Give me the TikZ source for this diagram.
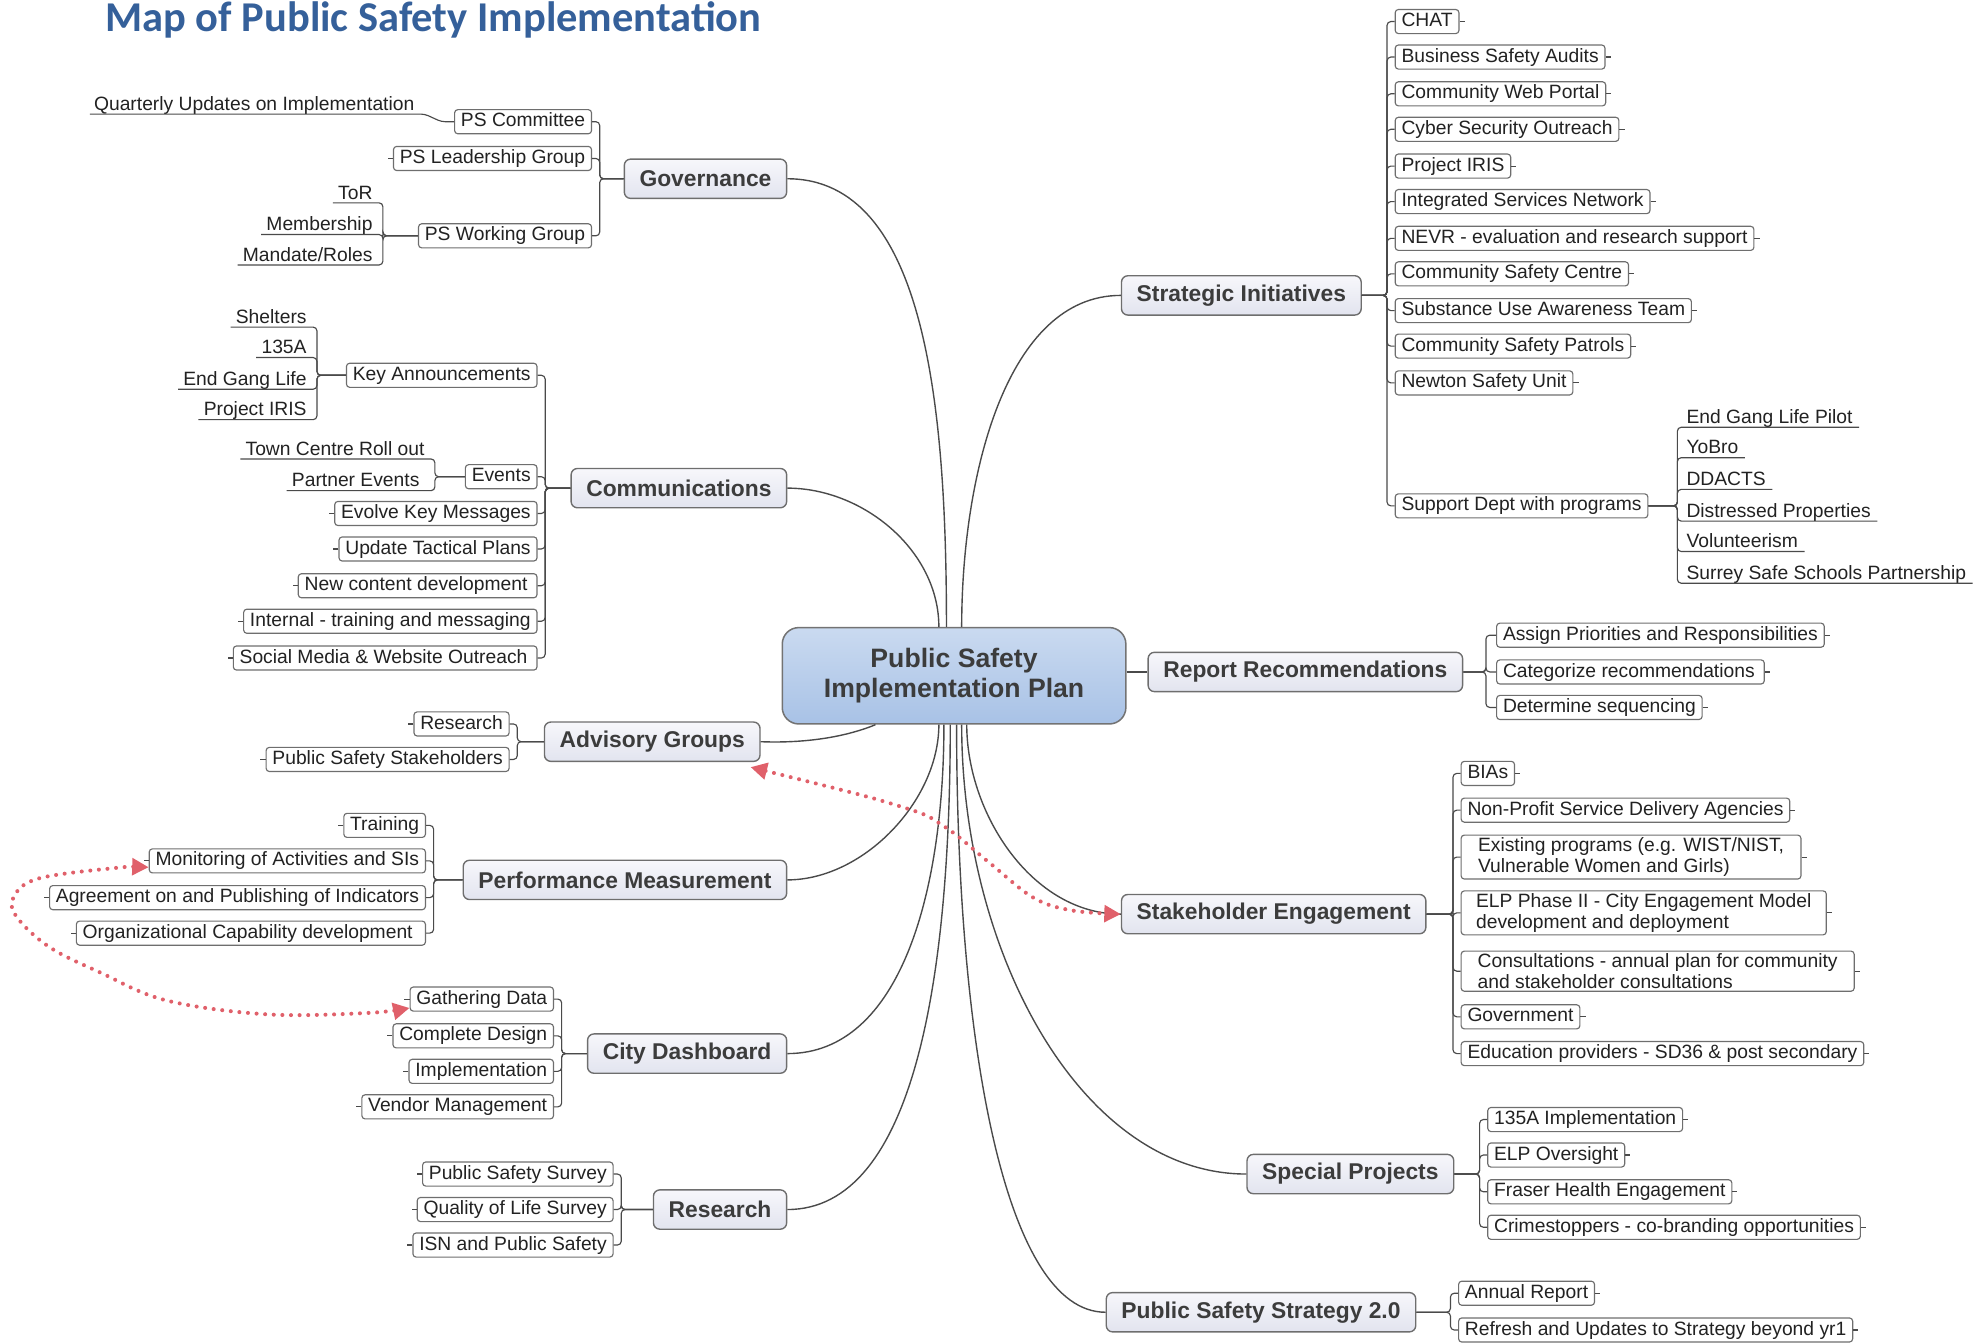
\documentclass[tikz,border=0pt]{standalone}
\usepackage{fontspec}
\setmainfont{Liberation Sans}
\newfontfamily\titlefont{Carlito}
\usetikzlibrary{arrows.meta,calc}
\definecolor{ln}{HTML}{4A4A4A}
\definecolor{bd}{HTML}{6E6E6E}
\definecolor{txt}{HTML}{222222}
\definecolor{mtxt}{HTML}{3C3C3C}
\definecolor{rd}{HTML}{E0606A}
\definecolor{ttl}{HTML}{35609A}
\definecolor{ctop}{HTML}{CADAF0}
\definecolor{cbot}{HTML}{A8C2E6}
\definecolor{mtop}{HTML}{F7F7FB}
\definecolor{mbot}{HTML}{E2E4EF}
\newcommand\cconn[4]{\draw[br] (#1) .. controls ($(#1)+(0,#3)$) and ($(#2)+(#4,0)$) .. (#2);}
\newcommand\busW[3]{\draw[conn,rounded corners=3pt] (#1.west) -- (#2|-#1.west) -- (#2|-#3.east) -- (#3.east);}
\newcommand\busE[3]{\draw[conn,rounded corners=3pt] (#1.east) -- (#2|-#1.east) -- (#2|-#3.west) -- (#3.west);}
\newcommand\ulW[3]{\draw[conn,rounded corners=3pt] (#1.west) -- (#2|-#1.west) -- ($(#2|-#3.base)+(0,3)$) -- ($(#3.base west)+(-4,3)$);}
\newcommand\ulE[3]{\draw[conn,rounded corners=3pt] (#1.east) -- (#2|-#1.east) -- ($(#2|-#3.base)+(0,3)$) -- ($(#3.base east)+(5,3)$);}
\begin{document}
\begin{tikzpicture}[x=1pt,y=-1pt,
 leafbase/.style={draw=bd, line width=0.9pt, fill=white, rounded corners=2.5pt, inner xsep=5pt, inner ysep=2.5pt, font=\fontsize{15.2}{16.5}\selectfont, text=txt},
 leaf/.style={leafbase, text height=11pt, text depth=3pt},
 leafM/.style={leafbase, align=left, inner ysep=2pt},
 main/.style={draw=bd, line width=1.1pt, rounded corners=5pt, top color=mtop, bottom color=mbot, minimum height=31pt, inner xsep=12pt, inner ysep=0pt, font=\fontsize{18}{20}\selectfont\bfseries, text=mtxt},
 ctrs/.style={draw=black!55, line width=1.2pt, rounded corners=13pt, top color=ctop, bottom color=cbot, minimum width=271pt, minimum height=76pt, align=center, font=\fontsize{21}{24}\selectfont\bfseries, text=mtxt},
 ul/.style={inner sep=0pt, font=\fontsize{15.2}{16.5}\selectfont, text=txt},
 conn/.style={draw=ln, line width=0.9pt},
 br/.style={draw=ln, line width=1.1pt},
 reddot/.style={draw=rd, line width=3.2pt, dash pattern=on 0pt off 6.8pt, line cap=round},
 rtip/.style={{Triangle[length=13pt,width=13pt,fill=rd,color=rd,line cap=butt]}-{Triangle[length=13pt,width=13pt,fill=rd,color=rd,line cap=butt]}}
]
\useasboundingbox (0,0) rectangle (1568,1059);
\node[anchor=base west, inner sep=0pt, font=\titlefont\bfseries\fontsize{33.5}{36}\selectfont, text=ttl] (title) at (83,25) {Map of Public Safety Implementation};

% center
\node[ctrs] (ctr) at (752.5,533) {Public Safety\\Implementation Plan};

% main branches
\node[main,anchor=east] (gov) at (621,141) {Governance};
\node[main,anchor=east] (comm) at (621,385) {Communications};
\node[main,anchor=east] (adv) at (600,585) {Advisory Groups};
\node[main,anchor=east] (pm) at (621,694) {Performance Measurement};
\node[main,anchor=east] (cd) at (621,831) {City Dashboard};
\node[main,anchor=east] (res) at (621,954) {Research};
\node[main,anchor=west] (si) at (884,233) {Strategic Initiatives};
\node[main,anchor=west] (rr) at (905,530) {Report Recommendations};
\node[main,anchor=west] (se) at (884,721) {Stakeholder Engagement};
\node[main,anchor=west] (sp) at (983,926) {Special Projects};
\node[main,anchor=west] (pss) at (872,1035) {Public Safety Strategy 2.0};

% center connectors
\cconn{[xshift=-6pt]ctr.north}{gov.east}{-170}{110}
\cconn{[xshift=6pt]ctr.north}{si.west}{-120}{-90}
\cconn{[xshift=-12pt]ctr.north}{comm.east}{-60}{60}
\draw[br] (ctr.east|-rr.west) -- (rr.west);
\draw[br] ([xshift=-62pt]ctr.south) .. controls (660,584) and (625,586) .. (adv.east);
\cconn{[xshift=-12pt]ctr.south}{pm.east}{60}{60}
\cconn{[xshift=-8pt]ctr.south}{cd.east}{130}{90}
\cconn{[xshift=-3pt]ctr.south}{res.east}{200}{100}
\cconn{[xshift=10pt]ctr.south}{se.west}{70}{-70}
\cconn{[xshift=6pt]ctr.south}{sp.west}{180}{-130}
\cconn{[xshift=2pt]ctr.south}{pss.west}{250}{-80}

% Governance
\coordinate (bGov) at (473,0);
\node[leaf,anchor=east] (pscomm) at (467,96) {PS Committee};
\node[leaf,anchor=east] (pslead) at (467,125) {PS Leadership Group};
\node[leaf,anchor=east] (pswork) at (467,186) {PS Working Group};
\foreach \c in {pscomm,pslead,pswork} {\busW{gov}{bGov}{\c}}
\node[ul,anchor=base east] (qu) at (327,87) {Quarterly Updates on Implementation};
\draw[conn,rounded corners=3pt] (pscomm.west) -- ++(-10,0) -- ($(qu.base east)+(8,3)$) -- ($(qu.base west)+(-3,3)$);
\coordinate (bPSW) at (302,0);
\node[ul,anchor=base east] (tor) at (294,157) {ToR};
\node[ul,anchor=base east] (memb) at (294,182) {Membership};
\node[ul,anchor=base east] (mand) at (294,206) {Mandate/Roles};
\foreach \c in {tor,memb,mand} {\ulW{pswork}{bPSW}{\c}}

% Communications
\coordinate (bComm) at (430,0);
\node[leaf,anchor=east] (keyann) at (424,296) {Key Announcements};
\node[leaf,anchor=east] (events) at (424,376) {Events};
\node[leaf,anchor=east] (evolve) at (424,405) {Evolve Key Messages};
\node[leaf,anchor=east] (update) at (424,433) {Update Tactical Plans};
\node[leaf,anchor=east] (newcont) at (424,462) {New content development\,};
\node[leaf,anchor=east] (internal) at (424,490) {Internal - training and messaging};
\node[leaf,anchor=east] (social) at (424,519) {Social Media \& Website Outreach\,};
\foreach \c in {keyann,events,evolve,update,newcont,internal,social} {\busW{comm}{bComm}{\c}}
\coordinate (bKA) at (250,0);
\node[ul,anchor=base east] (shel) at (242,255) {Shelters};
\node[ul,anchor=base east] (a135) at (242,279) {135A};
\node[ul,anchor=base east] (egl) at (242,304) {End Gang Life};
\node[ul,anchor=base east] (piris) at (242,328) {Project IRIS};
\foreach \c in {shel,a135,egl,piris} {\ulW{keyann}{bKA}{\c}}
\coordinate (bEv) at (343,0);
\node[ul,anchor=base east] (tcro) at (335,359) {Town Centre Roll out};
\node[ul,anchor=base east] (pev) at (331,384) {Partner Events};
\foreach \c in {tcro,pev} {\ulW{events}{bEv}{\c}}

% Advisory Groups
\coordinate (bAdv) at (408,0);
\node[leaf,anchor=east] (advres) at (402,571) {Research};
\node[leaf,anchor=east] (advst) at (402,599) {Public Safety Stakeholders};
\foreach \c in {advres,advst} {\busW{adv}{bAdv}{\c}}

% Performance Measurement
\coordinate (bPM) at (342,0);
\node[leaf,anchor=east] (train) at (336,651) {Training};
\node[leaf,anchor=east] (monit) at (336,679) {Monitoring of Activities and SIs};
\node[leaf,anchor=east] (agree) at (336,708) {Agreement on and Publishing of Indicators};
\node[leaf,anchor=east] (orgcap) at (336,736) {Organizational Capability development\,\,};
\foreach \c in {train,monit,agree,orgcap} {\busW{pm}{bPM}{\c}}

% City Dashboard
\coordinate (bCD) at (443,0);
\node[leaf,anchor=east] (gath) at (437,788) {Gathering Data};
\node[leaf,anchor=east] (compl) at (437,817) {Complete Design};
\node[leaf,anchor=east] (implem) at (437,845) {Implementation};
\node[leaf,anchor=east] (vendor) at (437,873) {Vendor Management};
\foreach \c in {gath,compl,implem,vendor} {\busW{cd}{bCD}{\c}}

% Research
\coordinate (bRes) at (490,0);
\node[leaf,anchor=east] (survey) at (484,926) {Public Safety Survey};
\node[leaf,anchor=east] (qol) at (484,954) {Quality of Life Survey};
\node[leaf,anchor=east] (isn) at (484,982) {ISN and Public Safety};
\foreach \c in {survey,qol,isn} {\busW{res}{bRes}{\c}}

% Strategic Initiatives
\coordinate (bSI) at (1094,0);
\node[leaf,anchor=west] (s1) at (1100,17) {CHAT};
\node[leaf,anchor=west] (s2) at (1100,45) {Business Safety Audits};
\node[leaf,anchor=west] (s3) at (1100,74) {Community Web Portal};
\node[leaf,anchor=west] (s4) at (1100,102) {Cyber Security Outreach};
\node[leaf,anchor=west] (s5) at (1100,131) {Project IRIS};
\node[leaf,anchor=west] (s6) at (1100,159) {Integrated Services Network};
\node[leaf,anchor=west] (s7) at (1100,188) {NEVR - evaluation and research support};
\node[leaf,anchor=west] (s8) at (1100,216) {Community Safety Centre};
\node[leaf,anchor=west] (s9) at (1100,245) {Substance Use Awareness Team};
\node[leaf,anchor=west] (s10) at (1100,273) {Community Safety Patrols};
\node[leaf,anchor=west] (s11) at (1100,302) {Newton Safety Unit};
\node[leaf,anchor=west] (s12) at (1100,399) {Support Dept with programs};
\foreach \c in {s1,s2,s3,s4,s5,s6,s7,s8,s9,s10,s11,s12} {\busE{si}{bSI}{\c}}
\coordinate (bSD) at (1323,0);
\node[ul,anchor=base west] (p1) at (1330,334) {End Gang Life Pilot};
\node[ul,anchor=base west] (p2) at (1330,358) {YoBro};
\node[ul,anchor=base west] (p3) at (1330,383) {DDACTS};
\node[ul,anchor=base west] (p4) at (1330,408) {Distressed Properties};
\node[ul,anchor=base west] (p5) at (1330,432) {Volunteerism};
\node[ul,anchor=base west] (p6) at (1330,457) {Surrey Safe Schools Partnership};
\foreach \c in {p1,p2,p3,p4,p5,p6} {\ulE{s12}{bSD}{\c}}

% Report Recommendations
\coordinate (bRR) at (1172,0);
\node[leaf,anchor=west] (r1) at (1180,501) {Assign Priorities and Responsibilities};
\node[leaf,anchor=west] (r2) at (1180,530) {Categorize recommendations\,};
\node[leaf,anchor=west] (r3) at (1180,558) {Determine sequencing};
\foreach \c in {r1,r2,r3} {\busE{rr}{bRR}{\c}}

% Stakeholder Engagement
\coordinate (bSE) at (1146,0);
\node[leaf,anchor=west] (e1) at (1152,610) {BIAs};
\node[leaf,anchor=west] (e2) at (1152,639) {Non-Profit Service Delivery Agencies};
\node[leafM,anchor=west,minimum width=268pt] (e3) at (1152,676) {Existing programs (e.g. WIST/NIST,\\Vulnerable Women and Girls)};
\node[leafM,anchor=west,minimum width=288pt] (e4) at (1152,720) {ELP Phase II - City Engagement Model\\development and deployment};
\node[leafM,anchor=west,minimum width=310pt] (e5) at (1152,766) {Consultations - annual plan for community\\and stakeholder consultations};
\node[leaf,anchor=west] (e6) at (1152,802) {Government};
\node[leaf,anchor=west] (e7) at (1152,831) {Education providers - SD36 \& post secondary};
\foreach \c in {e1,e2,e3,e4,e5,e6,e7} {\busE{se}{bSE}{\c}}

% Special Projects
\coordinate (bSP) at (1167,0);
\node[leaf,anchor=west] (q1) at (1173,883) {135A Implementation};
\node[leaf,anchor=west] (q2) at (1173,911) {ELP Oversight};
\node[leaf,anchor=west] (q3) at (1173,940) {Fraser Health Engagement};
\node[leaf,anchor=west] (q4) at (1173,968) {Crimestoppers - co-branding opportunities};
\foreach \c in {q1,q2,q3,q4} {\busE{sp}{bSP}{\c}}

% Public Safety Strategy 2.0
\coordinate (bPSS) at (1144,0);
\node[leaf,anchor=west] (t1) at (1150,1020) {Annual Report};
\node[leaf,anchor=west] (t2) at (1150,1049) {Refresh and Updates to Strategy beyond yr1};
\foreach \c in {t1,t2} {\busE{pss}{bPSS}{\c}}

% outer ticks
\foreach \n in {pslead,evolve,update,newcont,internal,social,advres,advst,train,monit,agree,orgcap,gath,compl,implem,vendor,survey,qol,isn} {\draw[conn] (\n.west) -- ++(-4,0);}
\foreach \n in {s1,s2,s3,s4,s5,s6,s7,s8,s9,s10,s11,r1,r2,r3,e1,e2,e3,e4,e5,e6,e7,q1,q2,q3,q4,t1,t2} {\draw[conn] (\n.east) -- ++(4,0);}

% red dotted relationships
\coordinate (ra) at ($(adv.south east)+(-8,4)$);
\coordinate (rb) at (se.west);
\draw[reddot,rtip] plot[smooth,tension=0.6] coordinates {(ra) (710,636) (745,652) (781,681) (815,708) (845,718) (rb)};
\coordinate (rc) at ($(monit.west)+(0,5)$);
\coordinate (rd) at ($(gath.west)+(0,7)$);
\draw[reddot,rtip] plot[smooth,tension=0.6] coordinates {(rc) (87,685) (30,693) (11,707) (13,723) (39,747) (79,767) (131,789) (210,800) (289,799) (rd)};
\end{tikzpicture}
\end{document}
